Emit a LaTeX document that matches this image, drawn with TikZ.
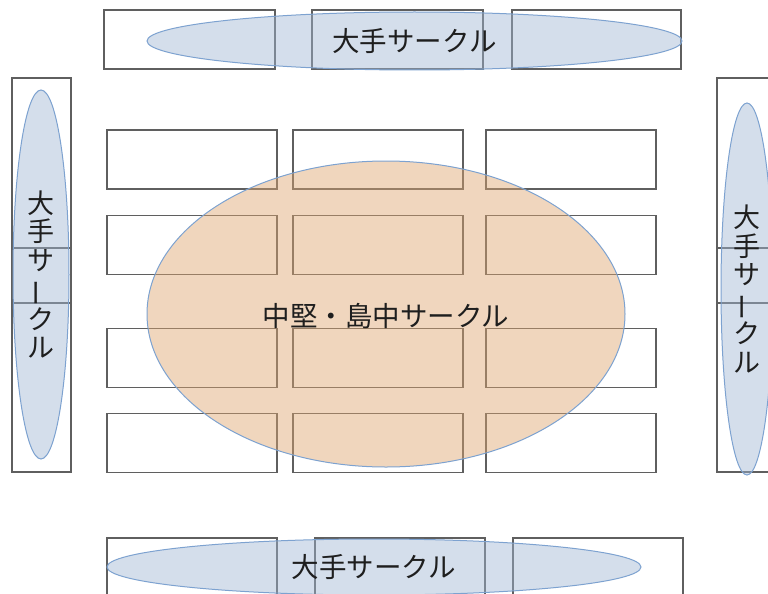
\documentclass[tikz,border=0pt]{standalone}
\usepackage{fontspec}
\setmainfont{Noto Sans CJK JP}
\usetikzlibrary{shapes.geometric}
\definecolor{boxline}{RGB}{95,95,95}
\definecolor{ellline}{RGB}{125,162,208}
\definecolor{bluefill}{RGB}{160,182,212}
\definecolor{orangefill}{RGB}{222,165,110}
\definecolor{txt}{RGB}{30,30,30}
\tikzset{
  cell/.style={draw=boxline, line width=1.2pt, fill=white, inner sep=0pt, outer sep=0pt,
    rectangle, minimum width=170pt, minimum height=59pt},
  vcell/.style={draw=boxline, line width=1.2pt, fill=white, inner sep=0pt, outer sep=0pt,
    rectangle, minimum width=59pt},
  bigcircle/.style={ellipse, draw=ellline, line width=1pt, fill=bluefill, fill opacity=0.45,
    draw opacity=1, inner sep=0pt},
  midcircle/.style={ellipse, draw=ellline, line width=1pt, fill=orangefill, fill opacity=0.45,
    draw opacity=1, inner sep=0pt},
  lbl/.style={text=txt, font=\fontsize{27.5}{28.5}\selectfont, inner sep=0pt},
  vlbl/.style={text=txt, font=\fontsize{27}{28.5}\selectfont, inner sep=0pt, align=center}
}
\newcommand{\vbar}{\rotatebox[origin=c]{90}{ー}}
\begin{document}
\begin{tikzpicture}[x=1pt,y=-1pt]
\useasboundingbox (0,0) rectangle (768,594);
\clip (0,0) rectangle (768,594);
% top row
\node[cell, minimum width=171pt] (t1) at (189.5,39.5) {};
\node[cell, minimum width=171pt] (t2) at (397.5,39.5) {};
\node[cell, minimum width=169pt] (t3) at (596.5,39.5) {};
% bottom row
\node[cell, minimum height=62pt] (b1) at (192,569) {};
\node[cell, minimum height=62pt] (b2) at (400,569) {};
\node[cell, minimum height=62pt] (b3) at (598,569) {};
% left column
\node[vcell, minimum height=170pt] (l1) at (41.5,163) {};
\node[vcell, minimum height=55pt] (l2) at (41.5,275.5) {};
\node[vcell, minimum height=169pt] (l3) at (41.5,387.5) {};
% right column
\node[vcell, minimum height=170pt] (r1) at (746.5,163) {};
\node[vcell, minimum height=55pt] (r2) at (746.5,275.5) {};
\node[vcell, minimum height=169pt] (r3) at (746.5,387.5) {};
% grid
\foreach \r/\y in {1/159.5,2/245,3/358,4/443}{
  \node[cell] (g\r a) at (192,\y) {};
  \node[cell] (g\r b) at (378,\y) {};
  \node[cell] (g\r c) at (571,\y) {};
}
% ellipses
\node[bigcircle, minimum width=535pt, minimum height=58pt] (et) at (414.5,41) {};
\node[bigcircle, minimum width=534pt, minimum height=56pt] (eb) at (374,567) {};
\node[bigcircle, minimum width=56pt, minimum height=369pt] (el) at (41,274.5) {};
\node[bigcircle, minimum width=52pt, minimum height=372pt] (er) at (747,289) {};
\node[midcircle, minimum width=478pt, minimum height=306pt] (em) at (386,314) {};
% labels
\node[lbl] (tt) at (et.center) {大手サークル};
\node[lbl] (tb) at (eb.center) {大手サークル};
\node[lbl] (tm) at ([yshift=-2pt]em.center) {中堅・島中サークル};
\node[vlbl] (tl) at (el.center) {大\\手\\サ\\\vbar\\ク\\ル};
\node[vlbl] (tr) at (er.center) {大\\手\\サ\\\vbar\\ク\\ル};
\end{tikzpicture}
\end{document}
